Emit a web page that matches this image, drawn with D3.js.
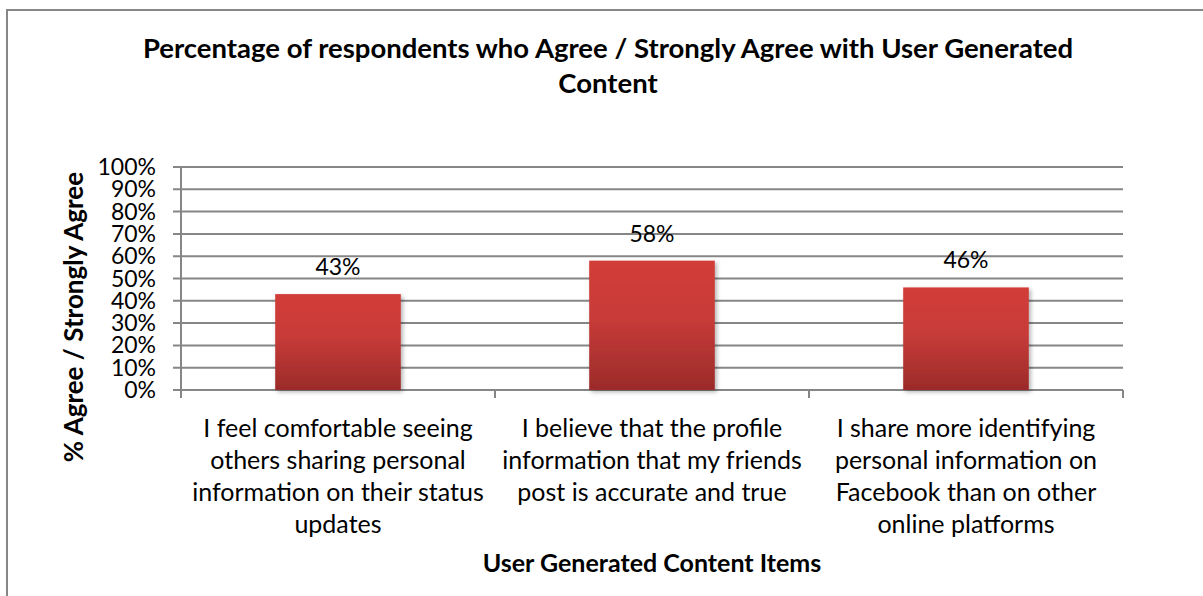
<!DOCTYPE html>
<html>
<head>
<meta charset="utf-8">
<script src="https://cdn.jsdelivr.net/npm/d3@7"></script>
<style>
  html, body { margin: 0; padding: 0; background: #fff; }
  svg { display: block; }
  text { font-family: Lato, "Open Sans", sans-serif; fill: #000; }
</style>
</head>
<body>
<svg id="chart" width="1203" height="596"></svg>
<script>
// Survey items (each label already split into its display lines)
const categories = [
  ["I feel comfortable seeing", "others sharing personal", "information on their status", "updates"],
  ["I believe that the profile", "information that my friends", "post is accurate and true"],
  ["I share more identifying", "personal information on", "Facebook than on other", "online platforms"]
];
const agreeShare = [0.43, 0.58, 0.46];
const valueLabels = ["43%", "58%", "46%"];
const yTicks = [0, 0.1, 0.2, 0.3, 0.4, 0.5, 0.6, 0.7, 0.8, 0.9, 1.0];
const titleLines = ["Percentage of respondents who Agree / Strongly Agree with User Generated", "Content"];
const yTitle = "% Agree / Strongly Agree";
const xTitle = "User Generated Content Items";

const svg = d3.select("#chart");
const plot = { left: 181, right: 1123, top: 167, bottom: 390 };

// Outer chart frame
svg.append("rect")
  .attr("x", 7).attr("y", 10)
  .attr("width", 1210).attr("height", 620)
  .attr("fill", "#fff").attr("stroke", "#878787").attr("stroke-width", 2);

// Gradient + shadow for bars
const defs = svg.append("defs");
const grad = defs.append("linearGradient").attr("id", "barFill")
  .attr("x1", 0).attr("y1", 0).attr("x2", 0).attr("y2", 1);
grad.append("stop").attr("offset", "0%").attr("stop-color", "#d23c37");
grad.append("stop").attr("offset", "45%").attr("stop-color", "#c73b39");
grad.append("stop").attr("offset", "100%").attr("stop-color", "#9b2b29");
const sh = defs.append("filter").attr("id", "barShadow")
  .attr("x", "-10%").attr("y", "-10%").attr("width", "130%").attr("height", "130%");
sh.append("feDropShadow").attr("dx", 2).attr("dy", 2).attr("stdDeviation", 2)
  .attr("flood-color", "#000").attr("flood-opacity", 0.3);

const x = d3.scaleBand()
  .domain(d3.range(categories.length))
  .range([plot.left, plot.right])
  .paddingInner(0).paddingOuter(0);
const y = d3.scaleLinear().domain([0, 1]).range([plot.bottom, plot.top]);

// Horizontal gridlines with left tick extensions
svg.append("g").selectAll("line").data(yTicks).join("line")
  .attr("x1", plot.left - 8).attr("x2", plot.right)
  .attr("y1", d => y(d)).attr("y2", d => y(d))
  .attr("stroke", "#868686").attr("stroke-width", 2);

// Y axis line
svg.append("line")
  .attr("x1", plot.left).attr("x2", plot.left)
  .attr("y1", plot.top).attr("y2", plot.bottom + 8)
  .attr("stroke", "#868686").attr("stroke-width", 2);

// Category boundary ticks on the x axis
const bounds = d3.range(categories.length + 1).map(i => plot.left + i * x.bandwidth());
svg.append("g").selectAll("line").data(bounds).join("line")
  .attr("x1", d => d).attr("x2", d => d)
  .attr("y1", plot.bottom).attr("y2", plot.bottom + 8)
  .attr("stroke", "#868686").attr("stroke-width", 2);

// Y tick labels
svg.append("g").selectAll("text").data(yTicks).join("text")
  .attr("x", plot.left - 25).attr("y", d => y(d) + 8)
  .attr("text-anchor", "end")
  .style("font-size", "23px")
  .text(d3.format(".0%"));

// Bars
const barW = x.bandwidth() * 0.4;
svg.append("g").selectAll("rect").data(agreeShare).join("rect")
  .attr("x", (d, i) => x(i) + (x.bandwidth() - barW) / 2)
  .attr("y", d => y(d))
  .attr("width", barW)
  .attr("height", d => y(0) - y(d))
  .attr("fill", "url(#barFill)")
  .attr("filter", "url(#barShadow)");

// Value labels
svg.append("g").selectAll("text").data(agreeShare).join("text")
  .attr("x", (d, i) => x(i) + x.bandwidth() / 2)
  .attr("y", d => y(d) - 19)
  .attr("text-anchor", "middle")
  .style("font-size", "23px")
  .text((d, i) => valueLabels[i]);

// Category labels
const catG = svg.append("g").selectAll("text").data(categories).join("text")
  .attr("text-anchor", "middle")
  .style("font-size", "25px");
catG.selectAll("tspan").data((d, i) => d.map(line => ({ line, i }))).join("tspan")
  .attr("x", d => x(d.i) + x.bandwidth() / 2)
  .attr("y", (d, j) => 437 + j * 32)
  .text(d => d.line);

// Chart title
svg.append("text")
  .attr("text-anchor", "middle")
  .style("font-size", "27.5px").style("font-weight", "bold")
  .selectAll("tspan").data(titleLines).join("tspan")
  .attr("x", 608).attr("y", (d, i) => 58 + i * 35)
  .text(d => d);

// Axis titles
svg.append("text")
  .attr("transform", "translate(83,317) rotate(-90)")
  .attr("text-anchor", "middle")
  .style("font-size", "26px").style("font-weight", "bold")
  .text(yTitle);
svg.append("text")
  .attr("x", 652).attr("y", 572)
  .attr("text-anchor", "middle")
  .style("font-size", "25px").style("font-weight", "bold")
  .text(xTitle);
</script>
</body>
</html>
